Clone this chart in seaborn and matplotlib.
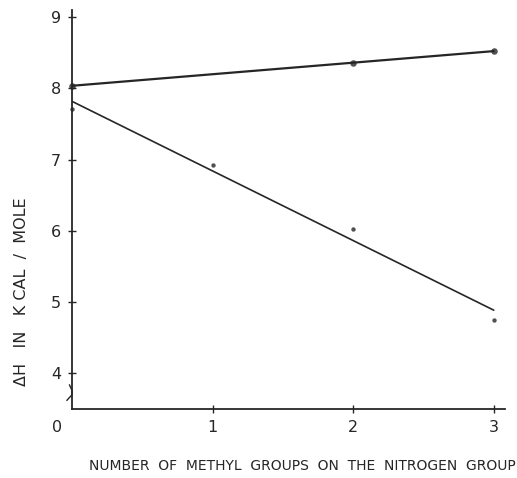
import matplotlib
matplotlib.use("Agg")
import matplotlib.pyplot as plt
import matplotlib.transforms as mtransforms
import seaborn as sns
import numpy as np
import pandas as pd

# ---- data ----
upper_x = [0, 2, 3]
upper_y = [8.04, 8.35, 8.53]
lower_x = [0, 1, 2, 3]
lower_y = [7.71, 6.92, 6.03, 4.75]
x_ticks = [0, 1, 2, 3]
x_tick_labels = ["0", "1", "2", "3"]
y_ticks = [4, 5, 6, 7, 8, 9]
y_tick_labels = ["4", "5", "6", "7", "8", "9"]
x_label = "NUMBER  OF  METHYL  GROUPS  ON  THE  NITROGEN  GROUP"
y_label = "ΔH   IN   K CAL  /  MOLE"

sns.set_theme(style="ticks")
plt.rcParams["font.family"] = ["DejaVu Sans"]

ink = "#262626"
fig = plt.figure(figsize=(5.17, 4.78), dpi=100)
ax = fig.add_axes([72/517, 1-409/478, (505-72)/517, (409-10)/478])

upper = pd.DataFrame({"x": upper_x, "y": upper_y})
lower = pd.DataFrame({"x": lower_x, "y": lower_y})

sns.regplot(data=upper, x="x", y="y", ci=None, ax=ax, color=ink,
            scatter_kws={"s": 22, "linewidths": 0, "zorder": 3, "clip_on": False},
            line_kws={"lw": 1.6})
sns.regplot(data=lower, x="x", y="y", ci=None, ax=ax, color=ink,
            scatter_kws={"s": 10, "linewidths": 0, "zorder": 3, "clip_on": False},
            line_kws={"lw": 1.2})

ax.set_xlim(0, 3.08)
ax.set_ylim(3.5, 9.1)
for s in ["top", "right"]:
    ax.spines[s].set_visible(False)
for s in ["left", "bottom"]:
    ax.spines[s].set_color(ink)
    ax.spines[s].set_linewidth(1.3)

ax.set_xticks(x_ticks)
ax.set_xticklabels(x_tick_labels)
ax.set_yticks(y_ticks)
ax.set_yticklabels(y_tick_labels)
ax.tick_params(axis="both", direction="inout", length=6, width=1.0,
               colors=ink, labelsize=11.5)
ax.tick_params(axis="y", pad=5)
ax.tick_params(axis="x", pad=5)

# shift the "0" label to sit left of the origin, as hand-lettered
lbl0 = ax.get_xticklabels()[0]
lbl0.set_transform(lbl0.get_transform() +
                   mtransforms.ScaledTranslation(-15/100, 0, fig.dpi_scale_trans))
ax.xaxis.get_major_ticks()[0].tick1line.set_visible(False)

ax.set_xlabel(x_label, fontsize=10, color=ink)
ax.xaxis.label.set_va("center")
ax.xaxis.set_label_coords((302-72)/433, -(466-409)/399)
ax.set_ylabel(y_label, fontsize=11.5, color=ink)
ax.yaxis.label.set_va("center")
ax.yaxis.set_label_coords((22-72)/433, (409-292)/399)

# axis break mark on the y axis
brk = mtransforms.blended_transform_factory(ax.transAxes, ax.transData)
ax.plot([-0.012, 0.0, 0.0, -0.006], [3.62, 3.70, 3.76, 3.84], color=ink,
        lw=1.0, transform=brk, clip_on=False)

fig.savefig("out.png", dpi=100, facecolor="white")
